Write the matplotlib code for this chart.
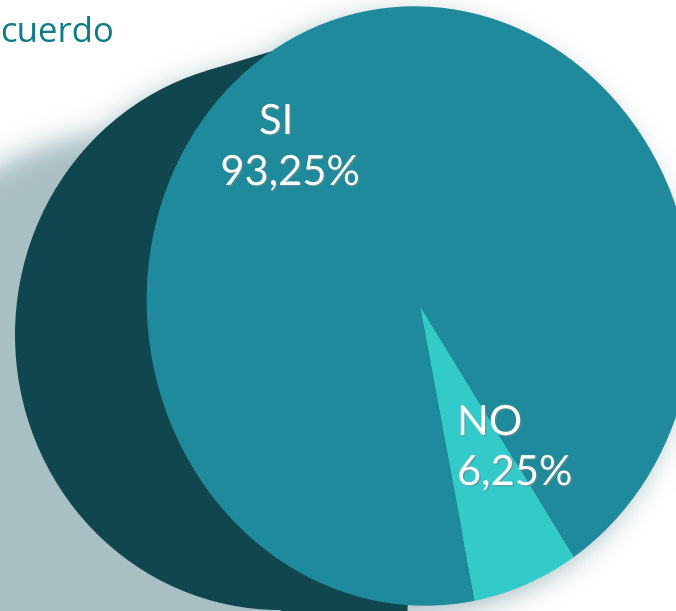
import numpy as np
import matplotlib
matplotlib.use('Agg')
import matplotlib.pyplot as plt
from matplotlib.patches import Ellipse, Polygon
from matplotlib.path import Path
from matplotlib.transforms import Affine2D
import matplotlib.patheffects as pe

# data
labels = ['SI', 'NO']
values = [93.25, 6.25]
title = 'cuerdo'

# colours
c_si = '#1f8a9b'
c_no = '#33caca'
c_side = '#10474f'
c_shadow = '#a8bfc4'
c_title = '#0e7b86'

W, H = 676, 611
# front face and back face of the "3d" pie: cx, cy, rx, ry, tilt (deg, pixel space)
front = (420, 306, 273, 300, -6.0)
back = (280, 335, 265, 275)
corner = (286, 47)          # where the side meets the front face at the top
shadow_blob = (150, 408, 300, 280)


def side_polygon():
    """polygon joining the back ellipse to the front face"""
    bx, by, brx, bry = back
    t = np.linspace(0, 2 * np.pi, 720)
    px = bx + brx * np.cos(t)
    py = by + bry * np.sin(t)
    dx, dy = px - corner[0], py - corner[1]
    ang = np.where(dx < 0, np.arctan2(dy, -dx), np.inf)
    i = np.argmin(ang)
    return [(px[i], py[i]), corner, (front[0], front[1]), (front[0] - 15, H + 60), (bx, by + bry)]


def front_mask(xs, ys):
    fx, fy, frx, fry, ftl = front
    a = np.radians(ftl)
    u = np.cos(a) * (xs - fx) + np.sin(a) * (ys - fy)
    v = -np.sin(a) * (xs - fx) + np.cos(a) * (ys - fy)
    return (u / frx) ** 2 + (v / fry) ** 2 <= 1


def shadow_image(sigma=13, pad=90, off=8):
    ys, xs = np.mgrid[-pad:H + pad, -pad:W + pad] + 0.5
    cx, cy, rx, ry = shadow_blob
    mask = ((xs - cx) / rx) ** 2 + ((ys - cy) / ry) ** 2 <= 1
    bx, by, brx, bry = back
    mask |= ((xs - bx + off) / brx) ** 2 + ((ys - by - off) / bry) ** 2 <= 1
    poly = Path(np.array(side_polygon()) + [-off, off])
    mask |= poly.contains_points(np.c_[xs.ravel(), ys.ravel()]).reshape(xs.shape)
    mask |= front_mask(xs + off, ys - off)
    mask = mask.astype(float)
    k = np.arange(-3 * sigma, 3 * sigma + 1)
    kern = np.exp(-k ** 2 / (2 * sigma ** 2))
    kern /= kern.sum()
    mask = np.apply_along_axis(lambda r: np.convolve(r, kern, mode='same'), 1, mask)
    mask = np.apply_along_axis(lambda r: np.convolve(r, kern, mode='same'), 0, mask)
    mask = mask[pad:pad + H, pad:pad + W]
    rgba = np.zeros((H, W, 4))
    rgba[..., :3] = matplotlib.colors.to_rgb(c_shadow)
    rgba[..., 3] = np.clip(mask, 0, 1)
    return rgba


fig = plt.figure(figsize=(W / 100, H / 100), dpi=100)
ax = fig.add_axes([0, 0, 1, 1])

ax.imshow(shadow_image(), extent=(0, W, H, 0), zorder=0, interpolation='bilinear')

# dark side of the cylinder
bx, by, brx, bry = back
ax.add_patch(Ellipse((bx, by), 2 * brx, 2 * bry, color=c_side, lw=0, zorder=1))
ax.add_patch(Polygon(side_polygon(), closed=True, color=c_side, lw=0, zorder=1))

# front face
wedges, _ = ax.pie(values, colors=[c_si, c_no], startangle=-62.4, frame=True)
cx, cy, rx, ry, tl = front
for w in wedges:
    w.set_transform(Affine2D().scale(rx, -ry).rotate_deg(tl).translate(cx, cy) + ax.transData)
    w.set_zorder(2)

ax.set_aspect('auto')
ax.set_xlim(0, W)
ax.set_ylim(H, 0)
ax.axis('off')

pct = [f'{v:.2f}'.replace('.', ',') + '%' for v in values]
fx = dict(color='white', fontsize=30, family='Lato', va='baseline', zorder=5,
          path_effects=[pe.withSimplePatchShadow(offset=(1, -1), shadow_rgbFace='#6a8a90', alpha=0.6)])
ax.text(276, 134, labels[0], ha='center', **fx)
ax.text(290, 185, pct[0], ha='center', **fx)
ax.text(457, 435, labels[1], ha='left', **fx)
ax.text(457, 485, pct[1], ha='left', **fx)

ax.text(0, 42, title, color=c_title, fontsize=25, family='Open Sans', ha='left', va='baseline')

fig.savefig('out.png', dpi=100)
